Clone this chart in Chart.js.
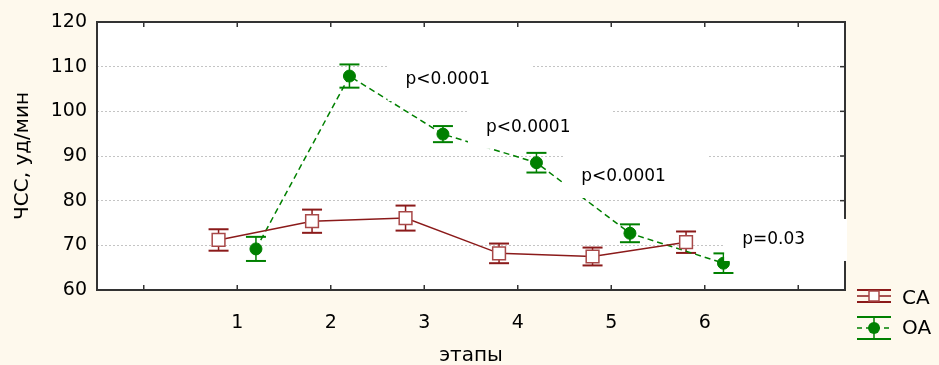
<!DOCTYPE html>
<html>
<head>
<meta charset="utf-8">
<script src="https://cdn.jsdelivr.net/npm/chart.js@4.4.1/dist/chart.umd.min.js"></script>
<style>
  html, body { margin: 0; padding: 0; background: #fef9ed; }
</style>
</head>
<body>
<canvas id="grafico" width="939" height="365"></canvas>
<script>
// dados
const etapas = [1, 2, 3, 4, 5, 6]
const xTicks = [0, 1, 2, 3, 4, 5, 6, 7]
const yTicks = [60, 70, 80, 90, 100, 110, 120]
const caMedia = [71.2, 75.4, 76.1, 68.2, 67.5, 70.7]
const caErro = [2.4, 2.6, 2.8, 2.2, 2.0, 2.4]
const oaMedia = [69.2, 107.9, 94.9, 88.5, 72.7, 66.0]
const oaErro = [2.7, 2.6, 1.8, 2.2, 2.0, 2.2]
const pTexto = ['p<0.0001', 'p<0.0001', 'p<0.0001', 'p=0.03']
const pX = [2.8, 3.66, 4.68, 6.4]
const pY = [107.0, 96.3, 85.3, 71.2]

const DESLOC = 0.2
const COR_CA = '#8b1a1a'
const COR_CA_MARCA = '#a84848'
const COR_OA = '#008000'
const FONTE = 'DejaVu Sans'

Chart.defaults.font.family = FONTE
Chart.defaults.font.size = 19
Chart.defaults.color = '#000'

function linha(ctx, x1, y1, x2, y2) {
  ctx.beginPath()
  ctx.moveTo(x1, y1)
  ctx.lineTo(x2, y2)
  ctx.stroke()
}

function desenhaBarras(chart, idx, medias, erros, cor) {
  const { ctx, scales: { y } } = chart
  const pts = chart.getDatasetMeta(idx).data
  ctx.save()
  ctx.strokeStyle = cor
  pts.forEach((p, i) => {
    const topo = y.getPixelForValue(medias[i] + erros[i])
    const base = y.getPixelForValue(medias[i] - erros[i])
    ctx.lineWidth = 1.5
    linha(ctx, p.x, topo, p.x, base)
    ctx.lineWidth = 2
    linha(ctx, p.x - 10, topo, p.x + 10, topo)
    linha(ctx, p.x - 10, base, p.x + 10, base)
  })
  ctx.restore()
}

const fundo = {
  id: 'fundo',
  beforeDraw(chart) {
    const { ctx, chartArea: a } = chart
    ctx.save()
    ctx.fillStyle = '#fef9ed'
    ctx.fillRect(0, 0, chart.width, chart.height)
    ctx.fillStyle = '#fff'
    ctx.fillRect(a.left, a.top, a.right - a.left, a.bottom - a.top)
    ctx.restore()
  },
  beforeDatasetsDraw(chart) {
    desenhaBarras(chart, 0, caMedia, caErro, COR_CA)
    desenhaBarras(chart, 1, oaMedia, oaErro, COR_OA)
  },
  afterDatasetsDraw(chart) {
    const { ctx, chartArea: a, scales: { x, y } } = chart
    ctx.save()

    // moldura e marcas internas
    ctx.strokeStyle = '#333'
    ctx.lineWidth = 2
    ctx.strokeRect(a.left, a.top, a.right - a.left, a.bottom - a.top)
    ctx.lineWidth = 1.5
    xTicks.forEach(v => {
      const px = x.getPixelForValue(v)
      linha(ctx, px, a.top, px, a.top + 5)
      linha(ctx, px, a.bottom, px, a.bottom - 5)
    })
    yTicks.forEach(v => {
      const py = y.getPixelForValue(v)
      linha(ctx, a.right, py, a.right - 5, py)
    })

    // rótulos de p com fundo branco
    ctx.font = `17px "${FONTE}"`
    ctx.textBaseline = 'middle'
    ctx.textAlign = 'left'
    pTexto.forEach((t, i) => {
      const px = x.getPixelForValue(pX[i])
      const py = y.getPixelForValue(pY[i])
      const w = ctx.measureText(t).width
      ctx.fillStyle = '#fff'
      ctx.fillRect(px - 18, py - 21, w + 60, 42)
      ctx.fillStyle = '#000'
      ctx.fillText(t, px, py)
    })

    // legenda
    const lx0 = a.right + 12
    const lx1 = a.right + 46
    const lxm = (lx0 + lx1) / 2
    const ds = chart.data.datasets
    ctx.font = `20px "${FONTE}"`

    let cy = a.bottom + 6
    ctx.strokeStyle = COR_CA
    ctx.lineWidth = 2
    linha(ctx, lx0, cy - 6, lx1, cy - 6)
    linha(ctx, lx0, cy + 6, lx1, cy + 6)
    ctx.lineWidth = 1.5
    linha(ctx, lxm, cy - 6, lxm, cy + 6)
    linha(ctx, lx0, cy, lx1, cy)
    ctx.fillStyle = '#fff'
    ctx.fillRect(lxm - 5, cy - 5, 10, 10)
    ctx.strokeStyle = COR_CA_MARCA
    ctx.strokeRect(lxm - 5, cy - 5, 10, 10)
    ctx.fillStyle = '#000'
    ctx.fillText(ds[0].label, lx1 + 11, cy + 3)

    cy = a.bottom + 38
    ctx.strokeStyle = COR_OA
    ctx.lineWidth = 2
    linha(ctx, lx0, cy - 11, lx1, cy - 11)
    linha(ctx, lx0, cy + 11, lx1, cy + 11)
    ctx.lineWidth = 1.5
    linha(ctx, lxm, cy - 11, lxm, cy + 11)
    ctx.setLineDash([5, 4])
    linha(ctx, lx0, cy, lx1, cy)
    ctx.setLineDash([])
    ctx.fillStyle = COR_OA
    ctx.beginPath()
    ctx.arc(lxm, cy, 6, 0, Math.PI * 2)
    ctx.fill()
    ctx.fillStyle = '#000'
    ctx.fillText(ds[1].label, lx1 + 11, cy + 1)

    ctx.restore()
  }
}

new Chart(document.getElementById('grafico'), {
  type: 'line',
  data: {
    datasets: [
      {
        label: 'CA',
        data: etapas.map((e, i) => ({ x: e - DESLOC, y: caMedia[i] })),
        borderColor: COR_CA,
        borderWidth: 1.5,
        pointStyle: 'rect',
        pointRadius: 9,
        pointBackgroundColor: '#fff',
        pointBorderColor: COR_CA_MARCA,
        pointBorderWidth: 1.5,
        tension: 0
      },
      {
        label: 'OA',
        data: etapas.map((e, i) => ({ x: e + DESLOC, y: oaMedia[i] })),
        borderColor: COR_OA,
        borderWidth: 1.5,
        borderDash: [6, 4],
        pointStyle: 'circle',
        pointRadius: 6,
        pointBackgroundColor: COR_OA,
        pointBorderColor: COR_OA,
        pointBorderWidth: 1,
        tension: 0
      }
    ]
  },
  options: {
    responsive: false,
    animation: false,
    events: [],
    layout: { padding: { top: 22, right: 94, left: 0, bottom: 0 } },
    plugins: { legend: { display: false }, tooltip: { enabled: false } },
    scales: {
      x: {
        type: 'linear',
        min: -0.5,
        max: 7.5,
        afterBuildTicks: s => { s.ticks = xTicks.map(v => ({ value: v })) },
        afterFit: s => { s.height = 75 },
        grid: { display: false },
        border: { display: false },
        ticks: {
          autoSkip: false,
          maxRotation: 0,
          padding: 14,
          callback: v => etapas.includes(v) ? String(v) : ''
        },
        title: {
          display: true,
          text: 'этапы',
          font: { size: 20, lineHeight: 1 },
          padding: { top: 0, bottom: -1 }
        }
      },
      y: {
        min: 60,
        max: 120,
        afterBuildTicks: s => { s.ticks = yTicks.map(v => ({ value: v })) },
        afterFit: s => { s.width = 97 },
        grid: { color: '#c4c4c4', lineWidth: 1, drawTicks: false },
        border: { display: false, dash: [2, 2] },
        ticks: { padding: 10 },
        title: {
          display: true,
          text: 'ЧСС, уд/мин',
          font: { size: 20, lineHeight: 1 },
          padding: { top: 13, bottom: 0 }
        }
      }
    }
  },
  plugins: [fundo]
})
</script>
</body>
</html>
